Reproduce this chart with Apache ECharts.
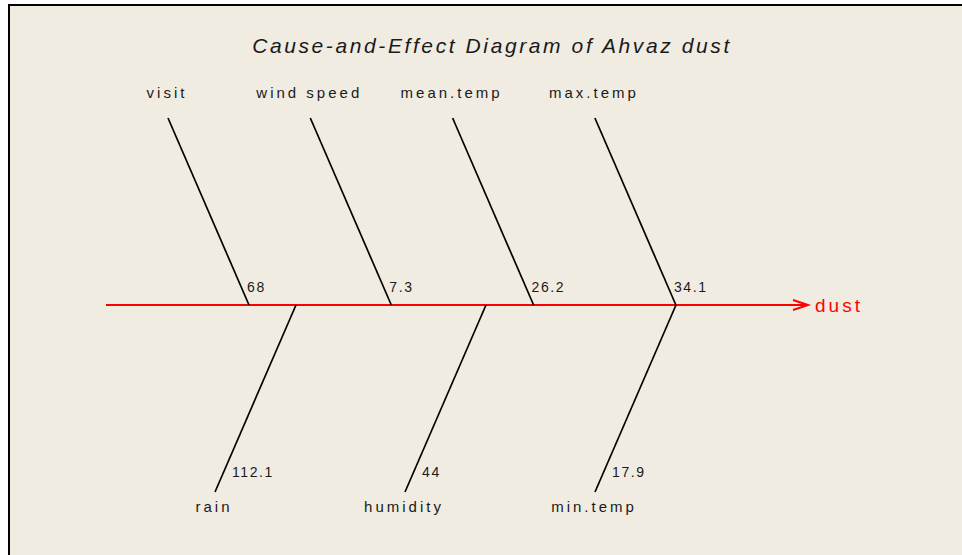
<!DOCTYPE html>
<html>
<head>
<meta charset="utf-8">
<script src="https://cdn.jsdelivr.net/npm/echarts@6/dist/echarts.min.js"></script>
<style>
  html, body { margin: 0; padding: 0; background: #fff; }
  #chart { width: 962px; height: 555px; }
  /* R-style wide letter spacing */
  #chart text { letter-spacing: 3px; }
  #chart text[style*="21px"] { letter-spacing: 2.6px; }
  #chart text[style*="14px"] { letter-spacing: 1.6px; }
</style>
</head>
<body>
<div id="chart"></div>
<script>
var titleText = "Cause-and-Effect Diagram of Ahvaz dust";
var effect = "dust";
var upperCauses = ["visit", "wind speed", "mean.temp", "max.temp"];
var upperValues = [68, 7.3, 26.2, 34.1];
var lowerCauses = ["rain", "humidity", "min.temp"];
var lowerValues = [112.1, 44, 17.9];

var myChart = echarts.init(document.getElementById("chart"), null, { renderer: "svg" });

// layout (in pixel-like axis units)
var spineY = 305, spineX0 = 106, spineX1 = 808;
var upperStart = 249, upperStep = 142.3;
var lowerStart = 296, lowerStep = 190;
var boneDx = -81, boneDy = 187;
var font = "Liberation Sans";
var ink = "#1a1a1a";

function boneItem(up) {
  return function (params, api) {
    var i = params.dataIndex;
    var sx = up ? upperStart + i * upperStep : lowerStart + i * lowerStep;
    var ey = up ? spineY - boneDy : spineY + boneDy;
    var p0 = api.coord([sx, spineY]);
    var p1 = api.coord([sx + boneDx, ey]);
    var lab = api.coord([sx + boneDx - 1, up ? 92 : 506]);
    var val = up ? api.coord([sx - 2, 287]) : api.coord([sx - 64, 472]);
    var names = up ? upperCauses : lowerCauses;
    return {
      type: "group",
      children: [
        { type: "line", shape: { x1: p0[0], y1: p0[1], x2: p1[0], y2: p1[1] },
          style: { stroke: "#000", lineWidth: 1.7 } },
        { type: "text", style: { text: names[i], x: lab[0], y: lab[1], fill: ink,
          fontSize: 15, fontFamily: font, textAlign: "center", textVerticalAlign: "middle" } },
        { type: "text", style: { text: String(api.value(0)), x: val[0], y: val[1], fill: ink,
          fontSize: 14, fontFamily: font, textAlign: "left", textVerticalAlign: "middle" } }
      ]
    };
  };
}

var option = {
  backgroundColor: "#fff",
  animation: false,
  title: {
    text: titleText,
    left: 487,
    textAlign: "center",
    top: 30,
    textStyle: { fontStyle: "italic", fontWeight: "normal", fontSize: 21, fontFamily: font, color: ink }
  },
  graphic: [{
    type: "rect", z: -10, silent: true,
    shape: { x: 9, y: 5, width: 1000, height: 600 },
    style: { fill: "#F0ECE2", stroke: "#000", lineWidth: 2 }
  }],
  grid: { left: 0, right: 0, top: 0, bottom: 0 },
  xAxis: { type: "value", min: 0, max: 962, show: false },
  yAxis: { type: "value", min: 0, max: 555, inverse: true, show: false },
  series: [
    {
      type: "custom",
      data: [0],
      renderItem: function (params, api) {
        var a = api.coord([spineX0, spineY]);
        var b = api.coord([spineX1, spineY]);
        var t = api.coord([spineX1 + 7, spineY]);
        return {
          type: "group",
          children: [
            { type: "line", shape: { x1: a[0], y1: a[1], x2: b[0], y2: b[1] },
              style: { stroke: "#ff0000", lineWidth: 2 } },
            { type: "polyline", shape: { points: [[b[0] - 15, b[1] - 5], [b[0], b[1]], [b[0] - 15, b[1] + 5]] },
              style: { stroke: "#ff0000", lineWidth: 2, fill: null } },
            { type: "text", style: { text: effect, x: t[0], y: t[1], fill: "#ff0000",
              fontSize: 19, fontFamily: font, textAlign: "left", textVerticalAlign: "middle" } }
          ]
        };
      }
    },
    { type: "custom", data: upperValues, renderItem: boneItem(true) },
    { type: "custom", data: lowerValues, renderItem: boneItem(false) }
  ]
};

myChart.setOption(option);
</script>
</body>
</html>
